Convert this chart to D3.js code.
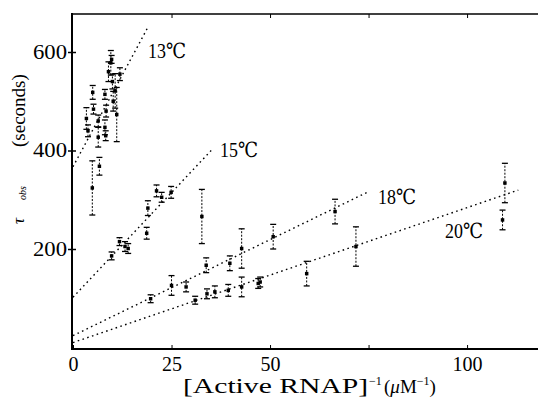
<!DOCTYPE html>
<html>
<head>
<meta charset="utf-8">
<script src="https://cdn.jsdelivr.net/npm/d3@7"></script>
<style>
  body { margin: 0; background: #fff; }
  svg { display: block; font-family: "Liberation Serif", "DejaVu Serif", serif; }
</style>
</head>
<body>
<div id="chart"></div>
<script>
// axis ticks
const xTicks = [0, 25, 50, 75, 100];
const xTickLabels = ["0", "25", "50", "", "100"];
const yTicks = [200, 400, 600];

// temperatures and fitted lines (intercept, slope, last x of the dotted line)
const temps = ["13℃", "15℃", "18℃", "20℃"];
const fitIntercepts = [367, 102, 24, 10];
const fitSlopes = [14.9, 8.5, 3.9, 2.74];
const fitEnds = [18.8, 35.3, 74.6, 113];

// measured points: [1/RNAP, tau, error]
const points13 = [
  [3.4, 465, 22], [3.8, 440, 12], [5.0, 518, 14], [5.2, 484, 10],
  [4.9, 324, 55], [6.4, 460, 12], [6.4, 427, 20], [6.7, 368, 18],
  [8.1, 514, 10], [8.4, 480, 12], [8.1, 447, 15], [8.3, 430, 10],
  [9.0, 560, 20], [9.6, 578, 25], [10.0, 540, 15], [10.2, 500, 20],
  [10.7, 521, 35], [11.1, 473, 55], [11.9, 555, 13], [9.8, 585, 8]
];
const points15 = [
  [9.8, 186, 8], [11.8, 215, 8], [13.2, 205, 10], [14.0, 201, 10],
  [18.7, 232, 12], [19.0, 283, 15], [21.2, 318, 12], [22.5, 305, 10],
  [24.9, 315, 12], [32.7, 266, 55]
];
const points18 = [
  [19.7, 99, 8], [25.0, 126, 20], [28.7, 123, 10], [33.8, 167, 15],
  [39.8, 171, 15], [42.8, 201, 40], [50.8, 225, 25], [66.5, 276, 25]
];
const points20 = [
  [31.0, 96, 8], [34.0, 109, 10], [36.0, 113, 12], [39.4, 116, 12],
  [42.8, 123, 20], [47.0, 130, 10], [47.5, 133, 10], [59.3, 150, 25],
  [71.8, 205, 40], [109.6, 334, 40], [109.0, 259, 20]
];
const allPoints = [points13, points15, points18, points20];

const svg = d3
  .select("#chart")
  .append("svg")
  .attr("width", 538)
  .attr("height", 406);

const x = d3.scaleLinear().domain([0, 118]).range([73, 538]);
const y = d3.scaleLinear().domain([0, 680]).range([347.5, 12.6]);

// frame
svg.append("line").attr("x1", 72).attr("x2", 72).attr("y1", 13).attr("y2", 350)
  .attr("stroke", "#000").attr("stroke-width", 2);
svg.append("line").attr("x1", 71).attr("x2", 538).attr("y1", 349).attr("y2", 349)
  .attr("stroke", "#000").attr("stroke-width", 2);
svg.append("line").attr("x1", 71).attr("x2", 538).attr("y1", 14).attr("y2", 14)
  .attr("stroke", "#000").attr("stroke-width", 1.5);

// bottom axis
const xAxis = svg
  .append("g")
  .attr("transform", "translate(0,349)")
  .call(
    d3.axisBottom(x)
      .tickValues(xTicks)
      .tickSize(-4)
      .tickPadding(7.5)
      .tickFormat((d, i) => xTickLabels[i])
  );
xAxis.select(".domain").remove();
xAxis.selectAll("text")
  .attr("font-family", "Liberation Serif, serif")
  .attr("font-size", 20)
  .attr("fill", "#000");

// top axis, ticks only
const topAxis = svg
  .append("g")
  .attr("transform", "translate(0,14)")
  .call(d3.axisTop(x).tickValues(xTicks.slice(1)).tickSize(-4).tickFormat(""));
topAxis.select(".domain").remove();

// left axis
const yAxis = svg
  .append("g")
  .attr("transform", "translate(72,0)")
  .call(d3.axisLeft(y).tickValues(yTicks).tickSize(4).tickPadding(1));
yAxis.select(".domain").remove();
yAxis.selectAll(".tick line").attr("x1", 4).attr("x2", -4).attr("stroke-width", 1.5);
yAxis.selectAll("text")
  .attr("font-family", "Liberation Serif, serif")
  .attr("font-size", 20)
  .attr("fill", "#000")
  .attr("textLength", 34)
  .attr("lengthAdjust", "spacingAndGlyphs");

// fitted dotted lines
const line = d3.line().x((d) => x(d[0])).y((d) => y(d[1]));
temps.forEach((t, i) => {
  const end = fitEnds[i];
  svg
    .append("path")
    .attr("d", line([[0, fitIntercepts[i]], [end, fitIntercepts[i] + fitSlopes[i] * end]]))
    .attr("fill", "none")
    .attr("stroke", "#000")
    .attr("stroke-width", 1.4)
    .attr("stroke-dasharray", "1.6,3.4");
});

// error bars and markers
const symbol = d3.symbol().type(d3.symbolSquare).size(12);
allPoints.forEach((pts) => {
  const g = svg.append("g");
  g.selectAll(".bar")
    .data(pts.filter((d) => d[2] > 0))
    .join("line")
    .attr("x1", (d) => x(d[0]))
    .attr("x2", (d) => x(d[0]))
    .attr("y1", (d) => y(d[1] - d[2]))
    .attr("y2", (d) => y(d[1] + d[2]))
    .attr("stroke", "#000")
    .attr("stroke-width", 1)
    .attr("stroke-dasharray", "2,1.5");
  [-1, 1].forEach((s) => {
    g.selectAll(".cap" + s)
      .data(pts.filter((d) => d[2] > 0))
      .join("line")
      .attr("x1", (d) => x(d[0]) - 3)
      .attr("x2", (d) => x(d[0]) + 3)
      .attr("y1", (d) => y(d[1] + s * d[2]))
      .attr("y2", (d) => y(d[1] + s * d[2]))
      .attr("stroke", "#000")
      .attr("stroke-width", 1.3);
  });
  g.selectAll("path")
    .data(pts)
    .join("path")
    .attr("d", symbol)
    .attr("transform", (d) => `translate(${x(d[0])},${y(d[1])})`)
    .attr("fill", "#000");
});

// temperature labels
const labelPos = [[148, 58], [220, 157], [378, 204], [445, 238]];
temps.forEach((t, i) => {
  svg
    .append("text")
    .attr("x", labelPos[i][0])
    .attr("y", labelPos[i][1])
    .attr("font-size", 21)
    .attr("textLength", 38)
    .attr("lengthAdjust", "spacingAndGlyphs")
    .text(t);
});

// x title
const xt = svg.append("text").attr("y", 393).attr("font-size", 21);
xt.append("tspan").attr("x", 183).attr("textLength", 185).attr("lengthAdjust", "spacingAndGlyphs").text("[Active RNAP]");
xt.append("tspan").attr("x", 369).attr("dy", -8).attr("font-size", 12).text("−1");
xt.append("tspan").attr("x", 384).attr("dy", 8).attr("font-size", 19).text("(");
xt.append("tspan").attr("font-size", 19).attr("font-style", "italic").text("μ");
xt.append("tspan").attr("font-size", 19).text("M");
xt.append("tspan").attr("dy", -8).attr("font-size", 12).text("−1");
xt.append("tspan").attr("dy", 8).attr("font-size", 19).text(")");

// y title
svg.append("text")
  .attr("transform", "translate(24,224) rotate(-90)")
  .attr("font-size", 17)
  .attr("font-style", "italic")
  .text("τ");
svg.append("text")
  .attr("transform", "translate(26,200) rotate(-90)")
  .attr("font-size", 10)
  .attr("font-style", "italic")
  .text("obs");
svg.append("text")
  .attr("transform", "translate(25,147) rotate(-90)")
  .attr("font-size", 19)
  .text("(seconds)");
</script>
</body>
</html>
